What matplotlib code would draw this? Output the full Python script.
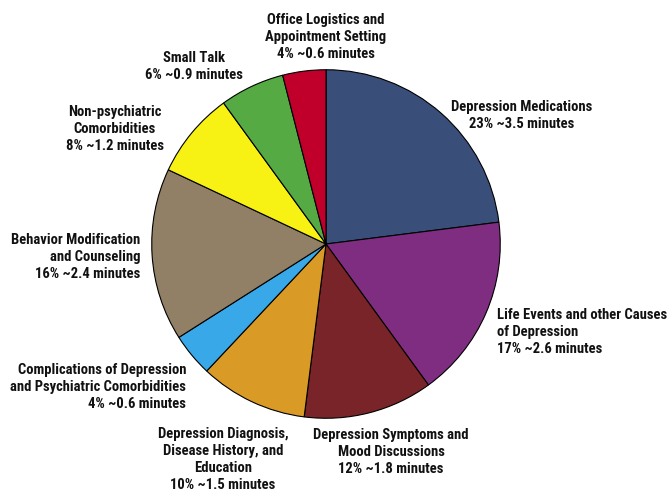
import matplotlib.pyplot as plt

# Data (clockwise from 12 o'clock)
categories = ["Depression Medications", "Life Events and other Causes\nof Depression",
              "Depression Symptoms and\nMood Discussions",
              "Depression Diagnosis,\nDisease History, and\nEducation",
              "Complications of Depression\nand Psychiatric Comorbidities",
              "Behavior Modification\nand Counseling", "Non-psychiatric\nComorbidities",
              "Small Talk", "Office Logistics and\nAppointment Setting"]
percents = [23, 17, 12, 10, 4, 16, 8, 6, 4]
minutes = ["3.5", "2.6", "1.8", "1.5", "0.6", "2.4", "1.2", "0.9", "0.6"]
colors = ["#3A4E7A", "#7F2D80", "#792428", "#DA9A26", "#38A8E8",
          "#917F66", "#F7F114", "#55AA44", "#C0002A"]

W, H = 670, 493
fig = plt.figure(figsize=(W / 100, H / 100), dpi=100)

# pie centre / radius in pixels
cx, cy, r = 326, 244, 176
ax = fig.add_axes([(cx - r) / W, (H - cy - r) / H, 2 * r / W, 2 * r / H])
ax.pie(percents, colors=colors, startangle=90, counterclock=False, radius=1,
       wedgeprops=dict(edgecolor="black", linewidth=0.8))
ax.set_xlim(-1.01, 1.01)
ax.set_ylim(-1.01, 1.01)
ax.set_aspect("equal")
ax.axis("off")

# label anchor positions in pixels (x, y of first line, alignment)
label_pos = [(522, 107, "center"), (497, 315, "left"), (391, 435, "center"),
             (223, 434, "center"), (186, 370, "right"), (140, 240, "right"),
             (115, 112, "center"), (194, 58, "center"), (326, 20, "center")]

for cat, p, m, (x, y, ha) in zip(categories, percents, minutes, label_pos):
    txt = f"{cat}\n{p}% ~{m} minutes"
    fig.text(x / W, 1 - (y - 7) / H, txt, ha=ha, va="top", multialignment=ha,
             fontsize=10.5, fontweight="bold", family="Roboto Condensed",
             linespacing=1.27, color="#111111")

fig.savefig("out.png", dpi=100)
